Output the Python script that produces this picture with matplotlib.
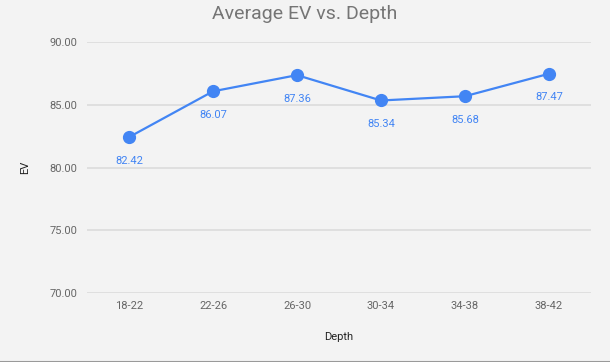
import matplotlib.pyplot as plt
from matplotlib.lines import Line2D

depth_bins = ['18-22', '22-26', '26-30', '30-34', '34-38', '38-42']
avg_ev = [82.42, 86.07, 87.36, 85.34, 85.68, 87.47]
y_ticks = [70, 75, 80, 85, 90]

BLUE = '#4285f4'
BG = '#f3f3f3'


def main():
    plt.rcParams['font.family'] = ['Roboto', 'DejaVu Sans']
    fig = plt.figure(figsize=(6.10, 3.62), dpi=100, facecolor=BG)
    ax = fig.add_axes([87 / 610, 1 - 293 / 362, 504 / 610, 251 / 362], facecolor=BG)

    x = range(len(depth_bins))
    ax.plot(x, avg_ev, color=BLUE, linewidth=1.6, marker='o', markersize=8.5, zorder=3)
    for xi, v in zip(x, avg_ev):
        ax.annotate(f'{v:.2f}', (xi, v), xytext=(0, -17), textcoords='offset points',
                    ha='center', va='center', color=BLUE, fontsize=8)

    ax.set_xlim(-0.5, len(depth_bins) - 0.5)
    ax.set_ylim(70, 90)
    ax.set_yticks(y_ticks)
    ax.set_yticklabels([f'{t:.2f}' for t in y_ticks])
    ax.set_xticks(list(x))
    ax.set_xticklabels(depth_bins)
    ax.tick_params(length=0, labelsize=8, labelcolor='#666666', pad=6)
    ax.tick_params(axis='y', pad=7)
    ax.grid(axis='y', color='#dcdcdc', linewidth=1.2)
    ax.set_axisbelow(True)
    for s in ax.spines.values():
        s.set_visible(False)

    ax.set_xlabel('Depth', fontsize=8, color='#222222', labelpad=15)
    ax.set_ylabel('EV', fontsize=8, color='#222222', labelpad=14)
    fig.text(305 / 610, 1 - 14 / 362, 'Average EV vs. Depth', ha='center', va='center',
             fontsize=14, color='#757575')

    fig.add_artist(Line2D([0, 1], [0.5 / 362, 0.5 / 362], transform=fig.transFigure,
                          color='#9a9a9a', linewidth=1.5))

    fig.savefig('out.png', dpi=100, facecolor=BG)


if __name__ == '__main__':
    main()
